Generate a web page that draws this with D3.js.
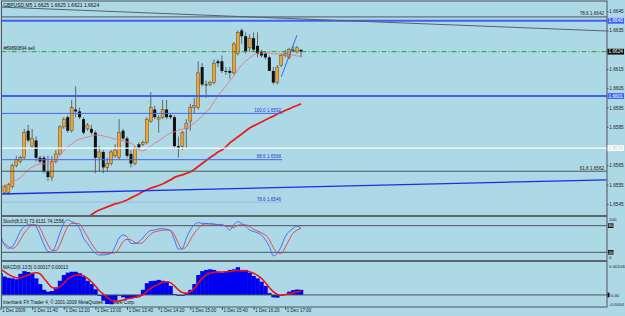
<!DOCTYPE html>
<html>
<head>
<meta charset="utf-8">
<script src="https://cdn.jsdelivr.net/npm/d3@7"></script>
<style>
    body { margin: 0; background: #ADD8E6; }
    svg { display: block; font-family: "Liberation Sans", Arial, sans-serif; }
</style>
</head>
<body>
<div id="chart"></div>
<script>

// GBPUSD M5 bars, 1 Dec 2009 11:00 - 17:20 : [open, high, low, close]
const candles = [
    [1.6560, 1.6563, 1.6552, 1.6555], [1.6551, 1.6555, 1.6550, 1.6554], [1.6551, 1.6556, 1.6550, 1.6555],
    [1.6554, 1.6566, 1.6553, 1.6565], [1.6565, 1.6570, 1.6564, 1.6568], [1.6567, 1.6570, 1.6566, 1.6569],
    [1.6569, 1.6584, 1.6568, 1.6582], [1.6583, 1.6586, 1.6577, 1.6578], [1.6575, 1.6584, 1.6574, 1.6579],
    [1.6578, 1.6580, 1.6567, 1.6569], [1.6569, 1.6570, 1.6566, 1.6567], [1.6569, 1.6570, 1.6561, 1.6562],
    [1.6562, 1.6570, 1.6557, 1.6559], [1.6559, 1.6570, 1.6557, 1.6567], [1.6567, 1.6573, 1.6566, 1.6571],
    [1.6571, 1.6586, 1.6570, 1.6585], [1.6585, 1.6590, 1.6584, 1.6589], [1.6590, 1.6591, 1.6582, 1.6583],
    [1.6583, 1.6599, 1.6582, 1.6595], [1.6594, 1.6606, 1.6590, 1.6593], [1.6593, 1.6595, 1.6589, 1.6590],
    [1.6589, 1.6590, 1.6581, 1.6582], [1.6584, 1.6587, 1.6583, 1.6586], [1.6584, 1.6586, 1.6581, 1.6582],
    [1.6582, 1.6583, 1.6561, 1.6569], [1.6569, 1.6575, 1.6562, 1.6572], [1.6572, 1.6573, 1.6561, 1.6564],
    [1.6564, 1.6569, 1.6562, 1.6566], [1.6566, 1.6573, 1.6565, 1.6572], [1.6570, 1.6576, 1.6569, 1.6573],
    [1.6569, 1.6589, 1.6568, 1.6582], [1.6583, 1.6584, 1.6578, 1.6579], [1.6579, 1.6580, 1.6569, 1.6570],
    [1.6571, 1.6573, 1.6564, 1.6566], [1.6566, 1.6575, 1.6565, 1.6574], [1.6576, 1.6577, 1.6573, 1.6574],
    [1.6576, 1.6578, 1.6575, 1.6577], [1.6577, 1.6590, 1.6576, 1.6589], [1.6588, 1.6603, 1.6587, 1.6595],
    [1.6594, 1.6596, 1.6589, 1.6590], [1.6589, 1.6591, 1.6582, 1.6590], [1.6590, 1.6599, 1.6589, 1.6594],
    [1.6594, 1.6599, 1.6589, 1.6590], [1.6591, 1.6592, 1.6589, 1.6590], [1.6590, 1.6591, 1.6574, 1.6575],
    [1.6575, 1.6580, 1.6569, 1.6574], [1.6575, 1.6583, 1.6573, 1.6582], [1.6584, 1.6589, 1.6574, 1.6587],
    [1.6588, 1.6597, 1.6583, 1.6595], [1.6595, 1.6600, 1.6592, 1.6596], [1.6595, 1.6619, 1.6594, 1.6613],
    [1.6616, 1.6618, 1.6606, 1.6607], [1.6607, 1.6609, 1.6600, 1.6607], [1.6607, 1.6609, 1.6606, 1.6608],
    [1.6608, 1.6620, 1.6607, 1.6618], [1.6619, 1.6620, 1.6616, 1.6618], [1.6619, 1.6622, 1.6613, 1.6614],
    [1.6614, 1.6616, 1.6612, 1.6614], [1.6614, 1.6616, 1.6610, 1.6613], [1.6613, 1.6629, 1.6612, 1.6628],
    [1.6623, 1.6635, 1.6622, 1.6634], [1.6635, 1.6636, 1.6628, 1.6632], [1.6632, 1.6634, 1.6623, 1.6624],
    [1.6626, 1.6633, 1.6624, 1.6631], [1.6631, 1.6634, 1.6624, 1.6625], [1.6627, 1.6634, 1.6621, 1.6623],
    [1.6624, 1.6625, 1.6621, 1.6622], [1.6623, 1.6624, 1.6620, 1.6621], [1.6621, 1.6622, 1.6614, 1.6614],
    [1.6614, 1.6616, 1.6607, 1.6608], [1.6608, 1.6617, 1.6607, 1.6616], [1.6617, 1.6623, 1.6616, 1.6622],
    [1.6622, 1.6625, 1.6621, 1.6623], [1.6621, 1.6626, 1.6620, 1.6625], [1.6625, 1.6627, 1.6624, 1.6625],
    [1.6624, 1.6627, 1.6623, 1.6626], [1.6625, 1.6625, 1.6621, 1.6624]
];

// thin moving average
const fastMA = [
    1.65539, 1.65544, 1.65554, 1.65565, 1.65575, 1.65585, 1.65606, 1.65627, 1.65642, 1.65653,
    1.65658, 1.65658, 1.65663, 1.65663, 1.65678, 1.65704, 1.65725, 1.65746, 1.65761, 1.65777,
    1.65787, 1.65792, 1.65798, 1.65803, 1.65808, 1.65808, 1.65803, 1.65798, 1.65792, 1.65787,
    1.65782, 1.65777, 1.65772, 1.65767, 1.65751, 1.65730, 1.65725, 1.65735, 1.65751, 1.65767,
    1.65777, 1.65792, 1.65808, 1.65818, 1.65824, 1.65834, 1.65839, 1.65844, 1.65855, 1.65870,
    1.65886, 1.65906, 1.65927, 1.65948, 1.65979, 1.66010, 1.66036, 1.66062, 1.66088, 1.66114,
    1.66145, 1.66171, 1.66191, 1.66207, 1.66223, 1.66233, 1.66233, 1.66233, 1.66233, 1.66228,
    1.66228, 1.66228, 1.66223, 1.66223, 1.66223, 1.66217, 1.66217
];

// thick moving average (below the window before bar 22)
const slowMA = [
    null, null, null, null, null, null, null, null, null, null, null,
    null, null, null, null, null, null, null, null, null, null, null,
    1.65383, 1.65394, 1.65409, 1.65419, 1.65427, 1.65435, 1.65443, 1.65451, 1.65456, 1.65463,
    1.65471, 1.65482, 1.65492, 1.65502, 1.65515, 1.65523, 1.65533, 1.65539, 1.65546, 1.65554,
    1.65565, 1.65575, 1.65588, 1.65596, 1.65601, 1.65609, 1.65616, 1.65629, 1.65645, 1.65660,
    1.65676, 1.65691, 1.65704, 1.65720, 1.65730, 1.65746, 1.65767, 1.65782, 1.65798, 1.65813,
    1.65829, 1.65844, 1.65855, 1.65865, 1.65875, 1.65886, 1.65896, 1.65906, 1.65917, 1.65925,
    1.65935, 1.65943, 1.65953, 1.65961, 1.65969
];

// Stochastic(8,3,3)
const stochMain = [
    59, 37, 29, 33, 48, 67, 78, 82, 82, 78, 59, 37, 22, 20, 37, 63, 85, 93, 89, 85,
    74, 52, 40, 27, 18, 14, 14, 15, 18, 33, 52, 59, 55, 40, 40, 44, 52, 63, 69, 70,
    73, 73, 72, 69, 48, 27, 29, 52, 70, 82, 87, 85, 85, 84, 84, 82, 82, 78, 70, 82,
    89, 85, 79, 70, 67, 64, 59, 48, 33, 12, 18, 33, 55, 67, 74, 79, 74
];
const stochSignal = [
    48, 40, 33, 29, 34, 48, 63, 74, 82, 82, 74, 55, 37, 25, 24, 37, 59, 78, 85, 85,
    84, 70, 55, 40, 27, 19, 18, 18, 18, 19, 29, 44, 49, 48, 42, 40, 42, 52, 61, 66,
    68, 70, 70, 69, 59, 40, 27, 33, 48, 63, 74, 82, 84, 84, 83, 82, 82, 79, 78, 76,
    81, 82, 82, 78, 72, 68, 64, 59, 48, 31, 19, 18, 31, 48, 63, 70, 74
];

// MACD(6,13,5)
const macdHist = [
    0.00072, 0.00061, 0.00057, 0.00055, 0.00052, 0.00070, 0.00079, 0.00076, 0.00070, 0.00055,
    0.00036, 0.00017, 0.00011, 0.00013, 0.00025, 0.00047, 0.00066, 0.00074, 0.00077, 0.00077,
    0.00072, 0.00061, 0.00047, 0.00036, 0.00019, -0.00003, -0.00019, -0.00030, -0.00031, -0.00019,
    -0.00001, -0.00008, -0.00013, -0.00012, -0.00008, 0.00000, 0.00017, 0.00039, 0.00046, 0.00047,
    0.00050, 0.00047, 0.00043, 0.00030, 0.00003, -0.00003, -0.00003, 0.00006, 0.00017, 0.00036,
    0.00066, 0.00079, 0.00083, 0.00085, 0.00083, 0.00077, 0.00074, 0.00076, 0.00083, 0.00085,
    0.00092, 0.00079, 0.00083, 0.00074, 0.00063, 0.00055, 0.00044, 0.00030, 0.00006, -0.00008,
    -0.00009, 0.00000, 0.00003, 0.00011, 0.00016, 0.00018, 0.00017
];
const macdSignal = [
    0.00085, 0.00077, 0.00068, 0.00061, 0.00057, 0.00056, 0.00061, 0.00066, 0.00072, 0.00074,
    0.00070, 0.00055, 0.00039, 0.00025, 0.00021, 0.00028, 0.00039, 0.00052, 0.00061, 0.00065,
    0.00066, 0.00064, 0.00055, 0.00044, 0.00030, 0.00014, 0.00003, -0.00008, -0.00017, -0.00022,
    -0.00020, -0.00017, -0.00013, -0.00010, -0.00008, -0.00006, 0.00000, 0.00011, 0.00022, 0.00030,
    0.00036, 0.00042, 0.00044, 0.00041, 0.00030, 0.00017, 0.00008, 0.00006, 0.00010, 0.00021,
    0.00039, 0.00055, 0.00066, 0.00072, 0.00075, 0.00076, 0.00076, 0.00077, 0.00078, 0.00080,
    0.00081, 0.00081, 0.00080, 0.00077, 0.00072, 0.00065, 0.00055, 0.00041, 0.00025, 0.00011,
    0.00002, -0.00001, 0.00001, 0.00004, 0.00007, 0.00010, 0.00013
];

// time scale (bar index of each label)
const timeTicks = [0, 8, 16, 24, 32, 40, 48, 56, 64, 72];
const timeLabels = ["1 Dec 2009", "1 Dec 11:40", "1 Dec 12:20", "1 Dec 13:00", "1 Dec 13:40",
    "1 Dec 14:20", "1 Dec 15:00", "1 Dec 15:40", "1 Dec 16:20", "1 Dec 17:00"];

// price scale
const priceTicks = [1.6645, 1.6635, 1.6625, 1.6615, 1.6605, 1.6595, 1.6585, 1.6575, 1.6565, 1.6555, 1.6545];

// horizontal lines and objects
const bluePriceLines = [1.6640, 1.6601];
const whitePriceLine = 1.6574;
const orderPrice = 1.6624;
const orderLabel = "#89890894 sell";
const fiboLeft = [["100.0", 1.6592], ["88.6", 1.6568], ["78.6", 1.6546]];
const fiboRight = [["78.6", 1.6642], ["61.8", 1.6562]];
// trend lines as [bar index, price]
const grayTrend = [[0, 1.66471], [153.3, 1.66347]];
const blueTrendLong = [[0, 1.65502], [153.3, 1.65575]];
const blueTrendShort = [[71, 1.66109], [75, 1.66326]];

const symbolTitle = "GBPUSD,M5  1.6625 1.6625 1.6621 1.6624";
const stochTitle = "Stoch(8,3,3) 73.6131 74.1558";
const macdTitle = "MACD(6,13,5) 0.00017 0.00013";
const copyright = "Interbank FX Trader 4, \u00a9 2001-2009 MetaQuotes Software Corp.";


class TerminalChart {
    constructor(parentElement){
        this.parentElement = parentElement;

        this.initVis()
    }

    initVis(){
        let vis = this;

        vis.width = 625;
        vis.height = 316;

        // window bounds (price scale sits right of vis.right)
        vis.left = 1.5;
        vis.right = 607;
        vis.main = {top: 2, bottom: 215};
        vis.stoch = {top: 217, bottom: 260};
        vis.macd = {top: 262, bottom: 307};

        vis.svg = d3.select("#" + vis.parentElement).append("svg")
            .attr("width", vis.width)
            .attr("height", vis.height);

        vis.svg.append("rect")
            .attr("width", vis.width)
            .attr("height", vis.height)
            .attr("fill", "#ADD8E6");

        // Scales
        vis.x = d3.scaleLinear()
            .domain([0, candles.length - 1])
            .range([0.5, 301]);

        vis.y = d3.scaleLinear()
            .domain([1.65388, 1.66487])
            .range([216, 4]);

        vis.yStoch = d3.scaleLinear()
            .domain([0, 100])
            .range([261.2, 216.8]);

        vis.yMacd = d3.scaleLinear()
            .domain([-0.0004, 0.00106])
            .range([307, 263]);

        // one clip per window
        let defs = vis.svg.append("defs");
        [["clip-main", vis.main], ["clip-stoch", vis.stoch], ["clip-macd", vis.macd]].forEach(c => {
            defs.append("clipPath").attr("id", c[0])
                .append("rect")
                .attr("x", vis.left)
                .attr("y", c[1].top)
                .attr("width", vis.right - vis.left)
                .attr("height", c[1].bottom - c[1].top);
        });

        vis.gMain = vis.svg.append("g").attr("clip-path", "url(#clip-main)");
        vis.gStoch = vis.svg.append("g").attr("clip-path", "url(#clip-stoch)");
        vis.gMacd = vis.svg.append("g").attr("clip-path", "url(#clip-macd)");
        vis.gFrame = vis.svg.append("g");

        vis.wrangleData()
    }

    wrangleData(){
        let vis = this;

        vis.bars = candles.map((d, i) => ({
            i: i, open: d[0], high: d[1], low: d[2], close: d[3], up: d[3] > d[0]
        }));

        // prices that get a coloured box on the scale
        vis.boxPrices = bluePriceLines.concat([whitePriceLine, candles[candles.length - 1][3]]);

        vis.updateVis()
    }

    updateVis(){
        let vis = this;
        let step = vis.x(1) - vis.x(0);
        let frameColor = "#4d555c";

        //---------------- main window ----------------

        // candles
        let bar = vis.gMain.selectAll(".bar")
            .data(vis.bars)
            .enter()
            .append("g")
            .attr("class", "bar");

        bar.append("line")
            .attr("x1", d => vis.x(d.i))
            .attr("x2", d => vis.x(d.i))
            .attr("y1", d => vis.y(d.high))
            .attr("y2", d => vis.y(d.low))
            .attr("stroke", "#5a5a5a")
            .attr("stroke-width", 0.9);

        bar.append("rect")
            .attr("x", d => vis.x(d.i) - 1.5)
            .attr("width", 3)
            .attr("y", d => vis.y(Math.max(d.open, d.close)))
            .attr("height", d => Math.max(0.9, Math.abs(vis.y(d.open) - vis.y(d.close))))
            .attr("fill", d => d.up ? "#f2a42c" : "#111")
            .attr("stroke", d => d.up ? "#5a4a30" : "none")
            .attr("stroke-width", 0.5);

        // moving averages
        let maLine = d3.line()
            .defined(d => d !== null)
            .x((d, i) => vis.x(i))
            .y(d => vis.y(d));

        vis.gMain.append("path")
            .attr("d", maLine(fastMA))
            .attr("fill", "none")
            .attr("stroke", "#ee7676")
            .attr("stroke-width", 0.9);

        vis.gMain.append("path")
            .attr("d", maLine(slowMA))
            .attr("fill", "none")
            .attr("stroke", "#ee1c1c")
            .attr("stroke-width", 1.8);

        // horizontal lines across the whole window
        let hLine = function(price, color, width, dash){
            vis.gMain.append("line")
                .attr("x1", vis.left).attr("x2", vis.right)
                .attr("y1", vis.y(price)).attr("y2", vis.y(price))
                .attr("stroke", color)
                .attr("stroke-width", width)
                .attr("stroke-dasharray", dash || null);
        };

        fiboRight.forEach(f => hLine(f[1], "#4d555c", 1));
        bluePriceLines.forEach(p => hLine(p, "#3f62ee", 2));
        hLine(whitePriceLine, "#ffffff", 1.4);
        hLine(orderPrice, "#2e9e2e", 1, "5,2,1,2");

        // fibo levels on the left part
        vis.gMain.selectAll(".fibo")
            .data(fiboLeft)
            .enter()
            .append("line")
            .attr("class", "fibo")
            .attr("x1", vis.left).attr("x2", 282)
            .attr("y1", d => vis.y(d[1])).attr("y2", d => vis.y(d[1]))
            .attr("stroke", (d, i) => i === 2 ? "#8f95ee" : "#4466ee")
            .attr("stroke-width", 1)
            .attr("stroke-dasharray", (d, i) => i === 2 ? "1,1" : null);

        vis.gMain.selectAll(".fibo-label")
            .data(fiboLeft)
            .enter()
            .append("text")
            .attr("class", "fibo-label")
            .attr("x", 281)
            .attr("y", d => vis.y(d[1]) - 1.5)
            .attr("text-anchor", "end")
            .attr("font-size", "4.6px")
            .attr("fill", "#2a3fd0")
            .text(d => d[0] + "  " + d[1].toFixed(4));

        vis.gMain.selectAll(".fibo-r-label")
            .data(fiboRight)
            .enter()
            .append("text")
            .attr("class", "fibo-r-label")
            .attr("x", 604)
            .attr("y", d => vis.y(d[1]) - 1.5)
            .attr("text-anchor", "end")
            .attr("font-size", "4.6px")
            .attr("fill", "#222")
            .text(d => d[0] + "  " + d[1].toFixed(4));

        // trend lines
        let trend = d3.line()
            .x(d => vis.x(d[0]))
            .y(d => vis.y(d[1]));

        vis.gMain.append("path").attr("d", trend(grayTrend))
            .attr("stroke", "#56626c").attr("stroke-width", 1).attr("fill", "none");
        vis.gMain.append("path").attr("d", trend(blueTrendLong))
            .attr("stroke", "#1a2ee6").attr("stroke-width", 1.3).attr("fill", "none");
        vis.gMain.append("path").attr("d", trend(blueTrendShort))
            .attr("stroke", "#3a55ee").attr("stroke-width", 0.9).attr("fill", "none");

        // window texts
        vis.gMain.append("text")
            .attr("x", 3).attr("y", 6.8)
            .attr("font-size", "5px").attr("fill", "#111")
            .text(symbolTitle);

        vis.gMain.append("text")
            .attr("x", 3.5).attr("y", vis.y(orderPrice) - 1.6)
            .attr("font-size", "4.6px").attr("fill", "#111")
            .text(orderLabel);

        //---------------- stochastic ----------------

        [80, 20].forEach(v => {
            vis.gStoch.append("line")
                .attr("x1", vis.left).attr("x2", vis.right)
                .attr("y1", vis.yStoch(v)).attr("y2", vis.yStoch(v))
                .attr("stroke", frameColor).attr("stroke-width", 1);
        });

        let stochLine = d3.line()
            .x((d, i) => vis.x(i))
            .y(d => vis.yStoch(d))
            .curve(d3.curveMonotoneX);

        vis.gStoch.append("path").attr("d", stochLine(stochSignal))
            .attr("fill", "none").attr("stroke", "#ee3b3b").attr("stroke-width", 0.9);
        vis.gStoch.append("path").attr("d", stochLine(stochMain))
            .attr("fill", "none").attr("stroke", "#4262ff").attr("stroke-width", 0.9);

        vis.gStoch.append("text")
            .attr("x", 3).attr("y", 222.6)
            .attr("font-size", "4.6px").attr("fill", "#111")
            .text(stochTitle);

        //---------------- MACD ----------------

        vis.gMacd.append("text")
            .attr("x", 3).attr("y", 304.2)
            .attr("font-size", "4.6px").attr("fill", "#111")
            .text(copyright);

        vis.gMacd.selectAll(".hist")
            .data(macdHist)
            .enter()
            .append("rect")
            .attr("class", "hist")
            .attr("x", (d, i) => vis.x(i) - step / 2)
            .attr("width", step + 0.3)
            .attr("y", d => vis.yMacd(Math.max(0, d)))
            .attr("height", d => Math.max(0.8, Math.abs(vis.yMacd(d) - vis.yMacd(0))))
            .attr("fill", "#0000f0");

        vis.gMacd.append("line")
            .attr("x1", vis.left).attr("x2", vis.right)
            .attr("y1", vis.yMacd(0)).attr("y2", vis.yMacd(0))
            .attr("stroke", frameColor).attr("stroke-width", 1);

        vis.gMacd.append("path")
            .attr("d", d3.line().x((d, i) => vis.x(i)).y(d => vis.yMacd(d)).curve(d3.curveMonotoneX)(macdSignal))
            .attr("fill", "none").attr("stroke", "#f01010").attr("stroke-width", 1.5);

        vis.gMacd.append("text")
            .attr("x", 3).attr("y", 268.6)
            .attr("font-size", "4.6px").attr("fill", "#111")
            .text(macdTitle);

        //---------------- frame and scales ----------------

        vis.gFrame.append("rect")
            .attr("x", vis.left).attr("y", 1)
            .attr("width", vis.right - vis.left)
            .attr("height", vis.macd.bottom - 1)
            .attr("fill", "none")
            .attr("stroke", frameColor).attr("stroke-width", 1);

        [vis.main.bottom, vis.stoch.bottom].forEach(yy => {
            vis.gFrame.append("rect")
                .attr("x", vis.left).attr("y", yy)
                .attr("width", vis.right - vis.left).attr("height", 2)
                .attr("fill", "#5d666e");
        });

        // price axis
        let yAxis = d3.axisRight(vis.y)
            .tickValues(priceTicks)
            .tickFormat(d3.format(".4f"))
            .tickSize(1.5)
            .tickPadding(0.8);

        let gy = vis.gFrame.append("g")
            .attr("transform", "translate(" + vis.right + ",0)")
            .call(yAxis);
        gy.select(".domain").remove();
        gy.selectAll("line").attr("stroke", frameColor);
        gy.selectAll("text").attr("font-size", "4.7px").attr("fill", "#222").attr("font-family", null);

        // tick labels hidden under a price box, as the terminal does
        gy.selectAll(".tick")
            .filter(d => vis.boxPrices.some(p => Math.abs(p - d) < 0.00025))
            .select("text").remove();

        // highlighted price boxes
        let box = function(price, bg, fg){
            let yy = vis.y(price);
            vis.gFrame.append("rect")
                .attr("x", 607.5).attr("y", yy - 2.9)
                .attr("width", 16.5).attr("height", 5.8)
                .attr("fill", bg);
            vis.gFrame.append("text")
                .attr("x", 608.6).attr("y", yy + 1.7)
                .attr("font-size", "4.7px").attr("fill", fg)
                .text(price.toFixed(4));
        };
        bluePriceLines.forEach(p => box(p, "#3f62ee", "#fff"));
        box(whitePriceLine, "#ffffff", "#c8c8c8");
        box(candles[candles.length - 1][3], "#0a0a0a", "#fff");

        // stochastic scale
        let scaleText = function(x, yy, label){
            vis.gFrame.append("text")
                .attr("x", x).attr("y", yy + 1.6)
                .attr("font-size", "4.4px").attr("fill", "#222")
                .text(label);
        };
        scaleText(609, 219, "100");
        scaleText(609, 257.5, "0");
        [80, 20].forEach(v => {
            vis.gFrame.append("rect")
                .attr("x", 608).attr("y", vis.yStoch(v) - 2.3)
                .attr("width", 5.5).attr("height", 4.6).attr("fill", "#111");
            vis.gFrame.append("text")
                .attr("x", 608.5).attr("y", vis.yStoch(v) + 1.5)
                .attr("font-size", "4.2px").attr("fill", "#fff")
                .text(v);
        });

        // MACD scale
        scaleText(609, 266, "0.00106");
        scaleText(609, 304, "-0.0004");
        vis.gFrame.append("rect")
            .attr("x", 607.5).attr("y", vis.yMacd(0) - 2.3)
            .attr("width", 2).attr("height", 4.6).attr("fill", "#111");
        scaleText(610.5, vis.yMacd(0), "0.00");

        // time axis
        let xAxis = d3.axisBottom(vis.x)
            .tickValues(timeTicks)
            .tickFormat((d, i) => timeLabels[i])
            .tickSize(3);

        let gx = vis.gFrame.append("g")
            .attr("transform", "translate(0," + vis.macd.bottom + ")")
            .call(xAxis);
        gx.select(".domain").remove();
        gx.selectAll("line").attr("stroke", frameColor);
        gx.selectAll("text")
            .attr("text-anchor", "start")
            .attr("x", 1.2)
            .attr("y", 2)
            .attr("font-size", "4.5px")
            .attr("font-family", null)
            .attr("fill", "#222");
    }
}

new TerminalChart("chart");
</script>
</body>
</html>
